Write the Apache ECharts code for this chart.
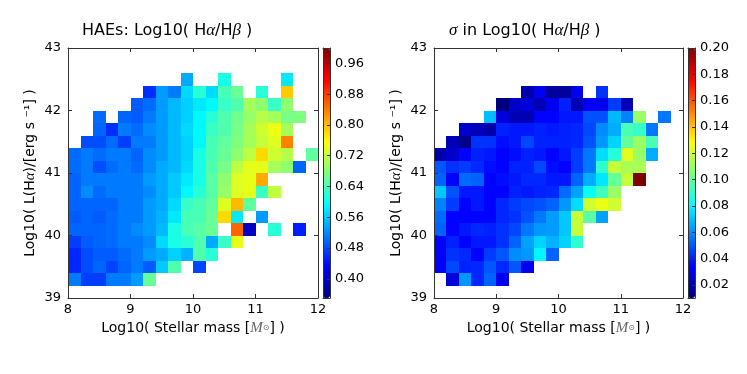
<!DOCTYPE html>
<html>
<head>
<meta charset="utf-8">
<script src="https://cdn.jsdelivr.net/npm/echarts@6/dist/echarts.min.js"></script>
<style>
html, body { margin: 0; padding: 0; background: #fff; }
#chart { width: 747px; height: 374px; }
</style>
</head>
<body>
<div id="chart"></div>
<script>
const _ = null;
const binWidth = 0.2;

// lower-left corner of each bin: x = log stellar mass, y = log L(Halpha)
const xBins = [8.0, 8.2, 8.4, 8.6, 8.8, 9.0, 9.2, 9.4, 9.6, 9.8, 10.0, 10.2, 10.4, 10.6, 10.8, 11.0, 11.2, 11.4, 11.6, 11.8];
const yBins = [42.8, 42.6, 42.4, 42.2, 42.0, 41.8, 41.6, 41.4, 41.2, 41.0, 40.8, 40.6, 40.4, 40.2, 40.0, 39.8, 39.6, 39.4, 39.2, 39.0];

// median Log10(Ha/Hb), rows top -> bottom
const ratioGrid = [
  [_, _, _, _, _, _, _, _, _, _, _, _, _, _, _, _, _, _, _, _],
  [_, _, _, _, _, _, _, _, _, _, _, _, _, _, _, _, _, _, _, _],
  [_, _, _, _, _, _, _, _, _, 0.54, _, _, 0.61, _, _, _, _, 0.58, _, _],
  [_, _, _, _, _, _, 0.46, 0.53, 0.51, 0.57, 0.62, 0.57, 0.64, 0.66, _, 0.62, _, 0.79, _, _],
  [_, _, _, _, _, 0.49, 0.50, 0.53, 0.55, 0.565, 0.58, 0.59, 0.63, 0.645, 0.70, 0.685, 0.63, 0.685, _, _],
  [_, _, 0.50, _, 0.495, 0.49, 0.51, 0.53, 0.55, 0.565, 0.59, 0.62, 0.645, 0.665, 0.69, 0.71, 0.70, 0.67, 0.675, _],
  [_, _, 0.495, 0.46, 0.51, 0.50, 0.52, 0.53, 0.55, 0.57, 0.59, 0.63, 0.645, 0.67, 0.70, 0.725, 0.745, 0.70, _, _],
  [_, 0.48, 0.48, 0.50, 0.47, 0.51, 0.51, 0.53, 0.55, 0.565, 0.59, 0.64, 0.655, 0.675, 0.70, 0.72, 0.735, 0.835, _, _],
  [0.50, 0.51, 0.50, 0.51, 0.51, 0.495, 0.52, 0.53, 0.55, 0.565, 0.61, 0.64, 0.66, 0.685, 0.715, 0.78, 0.725, 0.71, _, 0.655],
  [0.50, 0.51, 0.48, 0.50, 0.51, 0.50, 0.52, 0.54, 0.55, 0.57, 0.61, 0.645, 0.67, 0.715, 0.74, 0.74, 0.70, 0.685, 0.495, _],
  [0.495, 0.51, 0.51, 0.51, 0.51, 0.51, 0.53, 0.54, 0.56, 0.58, 0.61, 0.65, 0.685, 0.735, 0.74, 0.81, _, _, _, _],
  [0.495, 0.52, 0.50, 0.51, 0.51, 0.51, 0.52, 0.54, 0.56, 0.59, 0.62, 0.65, 0.69, 0.735, 0.74, 0.63, 0.715, _, _, _],
  [0.495, 0.495, 0.495, 0.495, 0.51, 0.51, 0.53, 0.54, 0.57, 0.63, 0.64, 0.655, 0.735, 0.80, 0.655, _, _, _, _, _],
  [0.49, 0.495, 0.49, 0.50, 0.51, 0.51, 0.53, 0.545, 0.58, 0.64, 0.64, 0.66, 0.78, 0.58, _, 0.53, _, _, _, _],
  [0.495, 0.495, 0.495, 0.50, 0.51, 0.52, 0.53, 0.55, 0.61, 0.64, 0.65, 0.66, _, 0.855, 0.395, _, 0.62, _, 0.45, _],
  [0.47, 0.49, 0.495, 0.50, 0.51, 0.51, 0.52, 0.57, 0.61, 0.62, 0.645, 0.54, 0.63, 0.74, _, _, _, _, _, _],
  [0.455, 0.48, 0.49, 0.49, 0.50, 0.51, 0.53, 0.54, 0.565, 0.545, 0.645, 0.62, _, _, _, _, _, _, _, _],
  [0.455, 0.48, 0.495, 0.475, 0.495, 0.51, 0.49, 0.56, 0.645, _, 0.475, _, _, _, _, _, _, _, _, _],
  [0.51, 0.47, 0.47, 0.51, 0.51, 0.53, 0.66, _, _, _, _, _, _, _, _, _, _, _, _, _],
  [_, _, _, _, _, _, _, _, _, _, _, _, _, _, _, _, _, _, _, _]
];

// scatter (sigma) of Log10(Ha/Hb), rows top -> bottom
const sigmaGrid = [
  [_, _, _, _, _, _, _, _, _, _, _, _, _, _, _, _, _, _, _, _],
  [_, _, _, _, _, _, _, _, _, _, _, _, _, _, _, _, _, _, _, _],
  [_, _, _, _, _, _, _, _, _, _, _, _, _, _, _, _, _, _, _, _],
  [_, _, _, _, _, _, _, 0.018, 0.031, 0.016, 0.015, 0.031, _, 0.043, _, _, _, _, _, _],
  [_, _, _, _, _, 0.010, 0.024, 0.027, 0.020, 0.031, 0.040, 0.020, 0.032, 0.031, 0.045, 0.020, _, _, _, _],
  [_, _, _, _, 0.069, 0.027, 0.020, 0.020, 0.034, 0.034, 0.038, 0.038, 0.049, 0.049, 0.068, 0.058, 0.110, _, 0.056, _],
  [_, _, 0.024, 0.021, 0.018, 0.040, 0.038, 0.038, 0.040, 0.038, 0.040, 0.041, 0.047, 0.060, 0.066, 0.095, 0.091, 0.056, _, _],
  [_, 0.020, 0.012, 0.043, 0.043, 0.036, 0.038, 0.047, 0.040, 0.040, 0.040, 0.041, 0.049, 0.062, 0.073, 0.100, 0.110, 0.095, _, _],
  [0.018, 0.024, 0.034, 0.040, 0.038, 0.034, 0.036, 0.040, 0.038, 0.034, 0.038, 0.045, 0.056, 0.075, 0.088, 0.123, 0.110, 0.066, _, _],
  [0.050, 0.043, 0.045, 0.041, 0.036, 0.034, 0.040, 0.040, 0.047, 0.036, 0.034, 0.045, 0.056, 0.090, 0.118, 0.113, 0.113, _, _, _],
  [0.052, 0.034, 0.054, 0.052, 0.034, 0.036, 0.038, 0.041, 0.041, 0.038, 0.038, 0.052, 0.066, 0.077, 0.100, 0.118, 0.200, _, _, _],
  [0.071, 0.049, 0.038, 0.038, 0.034, 0.034, 0.040, 0.038, 0.040, 0.041, 0.054, 0.064, 0.083, 0.093, 0.110, _, _, _, _, _],
  [0.058, 0.045, 0.034, 0.038, 0.034, 0.041, 0.045, 0.047, 0.049, 0.052, 0.062, 0.075, 0.120, 0.125, 0.120, _, _, _, _, _],
  [0.054, 0.034, 0.034, 0.034, 0.034, 0.041, 0.043, 0.049, 0.056, 0.063, 0.071, 0.118, 0.098, 0.064, _, _, _, _, _, _],
  [0.052, 0.034, 0.038, 0.041, 0.040, 0.043, 0.047, 0.056, 0.062, 0.063, 0.071, 0.118, _, _, _, _, _, _, _, _],
  [0.034, 0.040, 0.034, 0.038, 0.038, 0.043, 0.052, 0.064, 0.073, 0.067, 0.073, 0.090, _, _, _, _, _, _, _, _],
  [0.034, 0.043, 0.041, 0.034, 0.045, 0.050, 0.060, 0.062, 0.080, 0.052, _, _, _, _, _, _, _, _, _, _],
  [0.034, 0.047, 0.040, 0.041, 0.050, 0.041, 0.050, 0.031, _, _, _, _, _, _, _, _, _, _, _, _],
  [_, 0.027, 0.062, 0.041, 0.052, 0.031, _, _, _, _, _, _, _, _, _, _, _, _, _, _],
  [_, _, _, _, _, _, _, _, _, _, _, _, _, _, _, _, _, _, _, _]
];

const ratioRange = [0.35, 1.0];
const sigmaRange = [0.01, 0.20];
const ratioTicks = [0.40, 0.48, 0.56, 0.64, 0.72, 0.80, 0.88, 0.96];
const sigmaTicks = [0.02, 0.04, 0.06, 0.08, 0.10, 0.12, 0.14, 0.16, 0.18, 0.20];

const jet = ['#00007F', '#0000FF', '#007FFF', '#00FFFF', '#7FFF7F', '#FFFF00', '#FF7F00', '#FF0000', '#7F0000'];
const ink = '#333';
const tickFont = { fontFamily: 'DejaVu Sans', fontSize: 13, color: '#000' };
const mathStyle = { fontFamily: 'Liberation Serif', fontStyle: 'italic', fontSize: 17, color: '#000' };

function toCells(grid) {
  const cells = [];
  grid.forEach((row, r) => row.forEach((v, c) => {
    if (v !== null) cells.push([xBins[c], yBins[r], v]);
  }));
  return cells;
}

// avoid 9.6 + 0.2 = 9.7999... leaving a 1px seam between bins
const snap = v => Math.round(v * 1e6) / 1e6;

function renderCell(params, api) {
  const x = api.value(0), y = api.value(1);
  const p0 = api.coord([x, snap(y + binWidth)]);
  const p1 = api.coord([snap(x + binWidth), y]);
  const x0 = Math.round(p0[0]), y0 = Math.round(p0[1]);
  return {
    type: 'rect',
    shape: { x: x0, y: y0, width: Math.round(p1[0]) - x0, height: Math.round(p1[1]) - y0 },
    style: { fill: api.visual('color') }
  };
}

function xSpine(gridIndex, position, labels, name) {
  return {
    type: 'value', gridIndex, position, min: 8, max: 12, interval: 1, z: 5,
    axisLine: { show: true, onZero: false, lineStyle: { color: ink, width: 1 } },
    axisTick: { show: true, inside: true, length: 4, lineStyle: { color: ink } },
    axisLabel: Object.assign({ show: labels, margin: 5 }, tickFont),
    splitLine: { show: false },
    name: name || '',
    nameLocation: 'middle',
    nameGap: 22,
    nameTextStyle: {
      fontFamily: 'DejaVu Sans', fontSize: 14, color: '#000',
      rich: { m: { fontFamily: 'Liberation Serif', fontStyle: 'italic', fontSize: 15, color: '#666' },
              s: { fontFamily: 'DejaVu Sans', fontSize: 8, color: '#666' } }
    }
  };
}

function ySpine(gridIndex, position, labels, name) {
  return {
    type: 'value', gridIndex, position, min: 39, max: 43, interval: 1, z: 5,
    axisLine: { show: true, onZero: false, lineStyle: { color: ink, width: 1 } },
    axisTick: { show: true, inside: true, length: 4, lineStyle: { color: ink } },
    axisLabel: Object.assign({ show: labels, margin: 7 }, tickFont),
    splitLine: { show: false },
    name: name || '',
    nameLocation: 'middle',
    nameRotate: 90,
    nameGap: 30,
    nameTextStyle: {
      fontFamily: 'DejaVu Sans', fontSize: 14, color: '#000',
      rich: { g: { fontFamily: 'Liberation Serif', fontStyle: 'italic', fontSize: 15, color: '#000' } }
    }
  };
}

function barFrameX(gridIndex, position) {
  return {
    type: 'value', gridIndex, position, min: 0, max: 1, z: 10,
    axisLine: { show: true, onZero: false, lineStyle: { color: ink, width: 1 } },
    axisTick: { show: false }, axisLabel: { show: false }, splitLine: { show: false }
  };
}

function barFrameY(gridIndex, position, range, ticks) {
  return {
    type: 'value', gridIndex, position, min: range[0], max: range[1], z: 10,
    axisLine: { show: true, onZero: false, lineStyle: { color: ink, width: 1 } },
    axisTick: { show: !!ticks, inside: true, length: 3, customValues: ticks, lineStyle: { color: ink } },
    axisLabel: Object.assign({ show: !!ticks, margin: 5, customValues: ticks,
      formatter: v => v.toFixed(2) }, tickFont),
    splitLine: { show: false }
  };
}

const massName = 'Log10( Stellar mass [{m|M}{s|⊙}] )';
const lumName = 'Log10( L(H{g|α})/[erg s ⁻¹] )';

const chart = echarts.init(document.getElementById('chart'), null, { renderer: 'canvas' });

chart.setOption({
  backgroundColor: '#fff',
  animation: false,
  title: [
    { text: 'HAEs: Log10( H{g|α}/H{g|β} )', left: 82, top: 22, padding: 0,
      textStyle: { fontFamily: 'DejaVu Sans', fontSize: 16, fontWeight: 'normal', color: '#000', rich: { g: mathStyle } } },
    { text: '{g|σ} in Log10( H{g|α}/H{g|β} )', left: 449, top: 22, padding: 0,
      textStyle: { fontFamily: 'DejaVu Sans', fontSize: 16, fontWeight: 'normal', color: '#000', rich: { g: mathStyle } } }
  ],
  grid: [
    { left: 68, top: 48, width: 250, height: 250, containLabel: false, outerBoundsMode: 'none' },
    { left: 434, top: 48, width: 249, height: 250, containLabel: false, outerBoundsMode: 'none' },
    { left: 323, top: 48, width: 7, height: 250, containLabel: false, outerBoundsMode: 'none' },
    { left: 688, top: 48, width: 7, height: 250, containLabel: false, outerBoundsMode: 'none' }
  ],
  xAxis: [
    xSpine(0, 'bottom', true, massName),
    xSpine(0, 'top', false),
    xSpine(1, 'bottom', true, massName),
    xSpine(1, 'top', false),
    barFrameX(2, 'bottom'),
    barFrameX(2, 'top'),
    barFrameX(3, 'bottom'),
    barFrameX(3, 'top')
  ],
  yAxis: [
    ySpine(0, 'left', true, lumName),
    ySpine(0, 'right', false),
    ySpine(1, 'left', true, lumName),
    ySpine(1, 'right', false),
    barFrameY(2, 'left', ratioRange),
    barFrameY(2, 'right', ratioRange, ratioTicks),
    barFrameY(3, 'left', sigmaRange),
    barFrameY(3, 'right', sigmaRange, sigmaTicks)
  ],
  visualMap: [
    { type: 'continuous', seriesIndex: 0, dimension: 2, min: ratioRange[0], max: ratioRange[1],
      inRange: { color: jet }, left: 323, top: 48, itemWidth: 7, itemHeight: 250, padding: 0,
      calculable: false, hoverLink: false, orient: 'vertical' },
    { type: 'continuous', seriesIndex: 1, dimension: 2, min: sigmaRange[0], max: sigmaRange[1],
      inRange: { color: jet }, left: 688, top: 48, itemWidth: 7, itemHeight: 250, padding: 0,
      calculable: false, hoverLink: false, orient: 'vertical' }
  ],
  series: [
    { type: 'custom', name: 'ratio', xAxisIndex: 0, yAxisIndex: 0, silent: true,
      renderItem: renderCell, data: toCells(ratioGrid) },
    { type: 'custom', name: 'sigma', xAxisIndex: 2, yAxisIndex: 2, silent: true,
      renderItem: renderCell, data: toCells(sigmaGrid) }
  ]
});
</script>
</body>
</html>
